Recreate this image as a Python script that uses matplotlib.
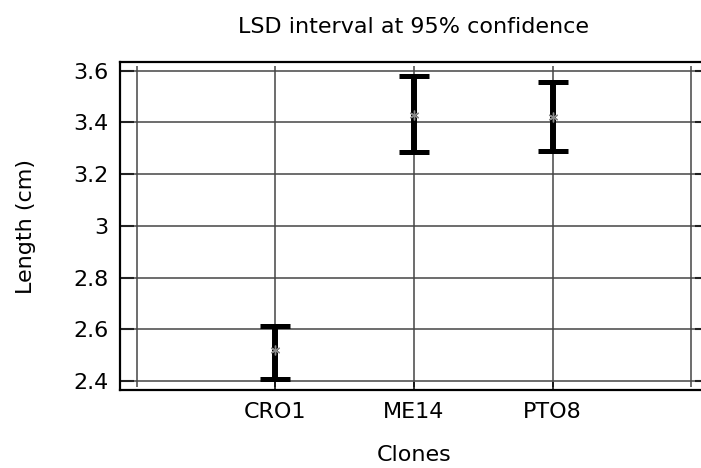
import matplotlib
matplotlib.use("Agg")
import matplotlib.pyplot as plt
from matplotlib.ticker import FuncFormatter

clones = ["CRO1", "ME14", "PTO8"]
means = [2.518, 3.428, 3.422]
lower = [2.409, 3.284, 3.289]
upper = [2.614, 3.578, 3.555]
yticks = [2.4, 2.6, 2.8, 3.0, 3.2, 3.4, 3.6]

plt.rcParams['font.family'] = ['DejaVu Sans']

fig = plt.figure(figsize=(7.01, 4.68), dpi=100)
ax = fig.add_axes([119.5/701, 78/468, 589/701, 328/468])

x = list(range(1, len(clones) + 1))
yerr = [[m - l for m, l in zip(means, lower)], [u - m for u, m in zip(upper, means)]]

# horizontal gridlines
for yt in yticks:
    ax.axhline(yt, color='#454545', lw=1.1, zorder=1)
# vertical gridlines (inner frame + category positions)
grid_x = [0] + x + [len(clones) + 1]
ax.vlines(grid_x, 2.375, 3.617, color='#454545', lw=1.1, zorder=1)

ax.errorbar(x, means, yerr=yerr, fmt='none', ecolor='black', elinewidth=4.3,
            capsize=10.5, capthick=3.6, zorder=3)
ax.plot(x, means, linestyle='none', marker=(6, 2, 0), markersize=7,
        color='#8a8a8a', markeredgewidth=1.0, zorder=4)

ax.set_xlim(-0.125, len(clones) + 1.125)
ax.set_ylim(2.365, 3.634)
ax.set_xticks(x)
ax.set_xticklabels(clones)
ax.set_yticks(yticks)
ax.yaxis.set_major_formatter(FuncFormatter(lambda v, p: f"{v:g}"))

ax.tick_params(axis='y', direction='in', length=10, width=1.5, left=True, right=True,
               labelsize=16, pad=8, color='#222222')
ax.tick_params(axis='x', direction='in', length=6, width=1.1, bottom=True, top=False,
               labelsize=16, pad=9)

for s in ax.spines.values():
    s.set_linewidth(1.6)
    s.set_color('black')

ax.set_title("LSD interval at 95% confidence", fontsize=16, pad=21)
ax.set_xlabel("Clones", fontsize=16, labelpad=16)
ax.set_ylabel("Length (cm)", fontsize=16, labelpad=27)

fig.savefig("out.png", dpi=100)
